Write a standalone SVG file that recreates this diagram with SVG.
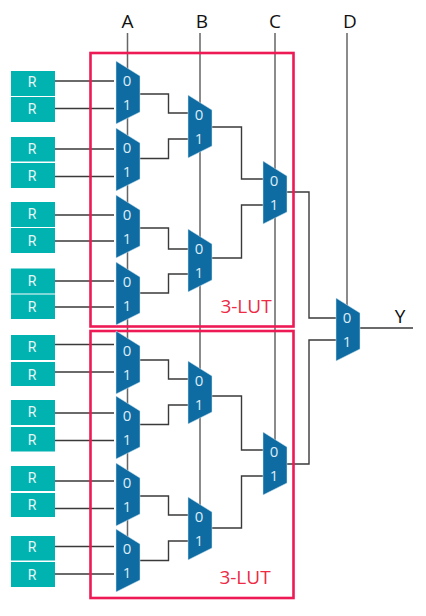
<svg xmlns="http://www.w3.org/2000/svg" width="426" height="616" viewBox="0 0 426 616">
<style>
.w{fill:none;stroke:#3a3a3a;stroke-width:1.4}
.s{fill:none;stroke:#666;stroke-width:1.5}
.lut{fill:none;stroke:#ed1a55;stroke-width:2.6}
.m{fill:#0f6ca3;stroke:#cfe6f2;stroke-width:.5}
.r{fill:#00b2b0}
.rt{font:14px "Roboto","Liberation Sans",sans-serif;fill:#e6f7f6;text-anchor:middle}
.mt{font:15px "Open Sans","Liberation Sans",sans-serif;fill:#dcecf5;text-anchor:middle}
.sig{font:19px "Open Sans","Liberation Sans",sans-serif;fill:#111;text-anchor:middle}
.lt{font:19px "Open Sans","Liberation Sans",sans-serif;fill:#ee2a45;text-anchor:middle}
</style>
<defs>
<polygon id="mux" class="m" points="0,0 24,15 24,51 0,63"/>
<g id="muxA"><use href="#mux"/><text class="mt" x="11" y="25">0</text><text class="mt" x="11" y="49">1</text></g>
</defs>
<g id="selects">
<path class="s" d="M127.500 33V545M200 33V510M275 33V445M347 33V306"/>
</g>
<g id="connectors">
<path class="w" d="M55 81H114M55 108.500H114M55 149H114M55 176.500H114M55 215H114M55 241H114M55 281H114M55 307H114M55 344.500H114M55 372H114M55 413H114M55 440.500H114M55 481H114M55 508.500H114M55 546.500H114M55 574H114"/>
<path class="w" d="M140 94H168.500V113H188M140 158.500H168.500V139H188M140 228H168.500V249H188M140 293H168.500V274H188M140 360H168.500V379H188M140 424.500H168.500V405H188M140 496H168.500V515H188M140 560.500H168.500V541H188"/>
<path class="w" d="M212 127H241.500V179H263M212 258H241.500V205H263M212 396H241.500V450H263M212 528H241.500V476H263"/>
<path class="w" d="M287 192H309V318H336M287 464H309V340H336M360 328H413"/>
</g>
<g id="lut-top"><rect class="lut" x="90.500" y="53" width="203" height="273.500"/><text class="lt" x="246" y="313">3-LUT</text></g>
<g id="lut-bottom"><rect class="lut" x="90.500" y="331" width="203" height="267"/><text class="lt" x="245" y="584">3-LUT</text></g>
<g id="labels">
<text class="sig" x="127.500" y="28">A</text><text class="sig" x="202" y="28">B</text><text class="sig" x="275" y="28">C</text><text class="sig" x="350" y="28">D</text><text class="sig" x="400" y="323">Y</text>
</g>
<g id="registers">
<g id="r1"><rect class="r" x="11" y="71" width="44" height="25"/><text class="rt" x="32" y="87">R</text></g>
<g id="r2"><rect class="r" x="11" y="97" width="44" height="25"/><text class="rt" x="32" y="114">R</text></g>
<g id="r3"><rect class="r" x="11" y="137" width="44" height="24.500"/><text class="rt" x="32" y="154">R</text></g>
<g id="r4"><rect class="r" x="11" y="163" width="44" height="25"/><text class="rt" x="32" y="181">R</text></g>
<g id="r5"><rect class="r" x="11" y="202" width="44" height="25"/><text class="rt" x="32" y="219">R</text></g>
<g id="r6"><rect class="r" x="11" y="228" width="44" height="25"/><text class="rt" x="32" y="246">R</text></g>
<g id="r7"><rect class="r" x="11" y="268.500" width="44" height="25"/><text class="rt" x="32" y="286">R</text></g>
<g id="r8"><rect class="r" x="11" y="294.500" width="44" height="24.500"/><text class="rt" x="32" y="312">R</text></g>
<g id="r9"><rect class="r" x="11" y="335" width="44" height="25"/><text class="rt" x="32" y="352">R</text></g>
<g id="r10"><rect class="r" x="11" y="362" width="44" height="24"/><text class="rt" x="32" y="380">R</text></g>
<g id="r11"><rect class="r" x="11" y="400" width="44" height="25"/><text class="rt" x="32" y="417">R</text></g>
<g id="r12"><rect class="r" x="11" y="427" width="44" height="24.500"/><text class="rt" x="32" y="445">R</text></g>
<g id="r13"><rect class="r" x="11" y="466" width="44" height="25"/><text class="rt" x="32" y="483">R</text></g>
<g id="r14"><rect class="r" x="11" y="493" width="44" height="24"/><text class="rt" x="32" y="510">R</text></g>
<g id="r15"><rect class="r" x="11" y="536" width="44" height="24.500"/><text class="rt" x="32" y="552">R</text></g>
<g id="r16"><rect class="r" x="11" y="562" width="44" height="25"/><text class="rt" x="32" y="580">R</text></g>
</g>
<g id="muxes">
<g id="m1"><use href="#muxA" x="116" y="61"/></g>
<g id="m2"><use href="#muxA" x="116" y="128"/></g>
<g id="m3"><use href="#muxA" x="116" y="195"/></g>
<g id="m4"><use href="#muxA" x="116" y="262"/></g>
<g id="m5"><use href="#muxA" x="116" y="331"/></g>
<g id="m6"><use href="#muxA" x="116" y="396"/></g>
<g id="m7"><use href="#muxA" x="116" y="463"/></g>
<g id="m8"><use href="#muxA" x="116" y="529"/></g>
<g id="m9"><use href="#muxA" x="188" y="95"/></g>
<g id="m10"><use href="#muxA" x="188" y="229"/></g>
<g id="m11"><use href="#muxA" x="188" y="361"/></g>
<g id="m12"><use href="#muxA" x="188" y="497"/></g>
<g id="m13"><use href="#muxA" x="263" y="161"/></g>
<g id="m14"><use href="#muxA" x="263" y="432"/></g>
<g id="m15"><use href="#muxA" x="336" y="298"/></g>
</g>
</svg>
